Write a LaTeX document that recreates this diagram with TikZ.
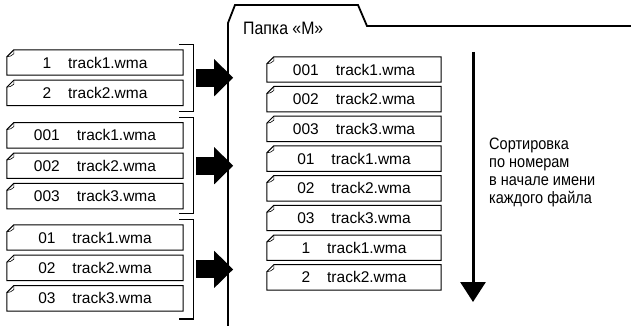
\documentclass[tikz,border=0pt]{standalone}
\usepackage{fontspec}
\setmainfont{Liberation Sans}
\newfontfamily\condfont[FakeStretch=0.88]{Liberation Sans}
\usetikzlibrary{arrows.meta,positioning,calc}

\newcommand{\numgap}{\hspace{17pt}}

\begin{document}
\begin{tikzpicture}[
    x=1pt, y=-1pt,
    file/.style={
        rectangle,
        minimum width=176pt,
        minimum height=25pt,
        inner sep=0pt,
        text centered,
        font=\fontsize{15.5}{18}\selectfont
    },
    rfile/.style={file, minimum width=174pt},
    fileline/.style={line width=1pt, line join=miter},
    bracket/.style={line width=1.2pt},
    bigarrow/.style={line width=18pt, -{Triangle[length=19pt,width=36pt]}},
    folder/.style={line width=1.8pt},
    sortarrow/.style={line width=3pt, -{Triangle[length=20pt,width=25pt]}}
]
    \useasboundingbox (0,0) rectangle (631,326);

    % folder
    \draw[folder] (228,332) -- (228,23) -- (235,5) -- (358,5) -- (367,26) -- (636,26);
    \node[anchor=base west, inner sep=0pt, font=\condfont\fontsize{18}{20}\selectfont] (title) at (243,35) {Папка «М»};

    % source folders
    \node[file] (a1) at (95,62.5) {1\numgap track1.wma};
    \node[file, below=5pt of a1] (a2) {2\numgap track2.wma};
    \node[file, below=17pt of a2] (b1) {001\numgap track1.wma};
    \node[file, below=5pt of b1] (b2) {002\numgap track2.wma};
    \node[file, below=5pt of b2] (b3) {003\numgap track3.wma};
    \node[file, below=16pt of b3] (c1) {01\numgap track1.wma};
    \node[file, below=5pt of c1] (c2) {02\numgap track2.wma};
    \node[file, below=5pt of c2] (c3) {03\numgap track3.wma};

    % folder M, sorted
    \node[rfile] (r1) at (354,69.5) {001\numgap track1.wma};
    \node[rfile, below=4.3pt of r1] (r2) {002\numgap track2.wma};
    \node[rfile, below=4.3pt of r2] (r3) {003\numgap track3.wma};
    \node[rfile, below=4.3pt of r3] (r4) {01\numgap track1.wma};
    \node[rfile, below=4.3pt of r4] (r5) {02\numgap track2.wma};
    \node[rfile, below=4.3pt of r5] (r6) {03\numgap track3.wma};
    \node[rfile, below=4.3pt of r6] (r7) {1\numgap track1.wma};
    \node[rfile, below=4.3pt of r7] (r8) {2\numgap track2.wma};

    \foreach \n in {a1,a2,b1,b2,b3,c1,c2,c3,r1,r2,r3,r4,r5,r6,r7,r8}{
        \draw[fileline] ([yshift=-7pt]\n.north west) -- ([xshift=7pt]\n.north west)
            -- (\n.north east) -- (\n.south east) -- (\n.south west) -- cycle;
        \draw[line width=0.6pt] ([xshift=7pt]\n.north west) -- ([shift={(7pt,-4pt)}]\n.north west)
            to[bend left=20] ([yshift=-7pt]\n.north west);
    }

    % brackets
    \draw[bracket] ([shift={(-4pt,5pt)}]a1.north east) -| ([shift={(10pt,-6pt)}]a2.south east) -- ++(-14pt,0pt);
    \draw[bracket] ([shift={(-4pt,5pt)}]b1.north east) -| ([shift={(10pt,-5pt)}]b3.south east) -- ++(-14pt,0pt);
    \draw[bracket] ([shift={(-4pt,5pt)}]c1.north east) -| ([shift={(10pt,-8pt)}]c3.south east) -- ++(-14pt,0pt);

    \coordinate (ga) at ($(a1.north east)!.5!(a2.south east)+(13pt,0pt)$);
    \coordinate (gb) at ($(b1.north east)!.5!(b3.south east)+(13pt,0pt)$);
    \coordinate (gc) at ($(c1.north east)!.5!(c3.south east)+(13pt,-1.5pt)$);
    \path (ga) ++(37pt,0pt) coordinate (fa);
    \path (gb) ++(37pt,0pt) coordinate (fb);
    \path (gc) ++(37pt,0pt) coordinate (fc);

    \draw[bigarrow] (ga) -- (fa);
    \draw[bigarrow] (gb) -- (fb);
    \draw[bigarrow] (gc) -- (fc);

    % sort order
    \coordinate (stop) at (473,52);
    \coordinate (sbot) at (473,302);
    \draw[sortarrow] (stop) -- (sbot);
    \node[anchor=north west, inner sep=0pt, align=left, font=\condfont\fontsize{16.5}{18}\selectfont] (sortnote) at (489,138)
        {Сортировка\\по номерам\\в начале имени\\каждого файла};
\end{tikzpicture}
\end{document}
